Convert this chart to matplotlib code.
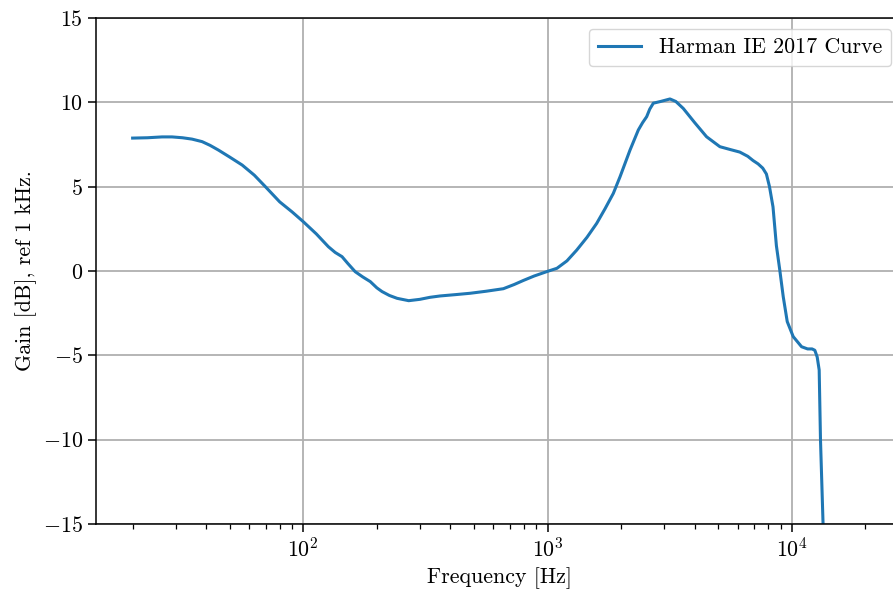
import numpy as np
import matplotlib
matplotlib.use("Agg")
import matplotlib.pyplot as plt

# ========== Data ==========
freq_hz = [20, 23, 26.4, 29, 32, 35, 38.5, 41.5, 44.9, 50, 56.2, 63, 69.9, 80, 90, 100,
           113, 126.6, 135, 144, 152, 163, 175, 188, 200, 210, 225, 242, 270, 300,
           330, 363, 420, 482, 560, 659, 730, 796, 880, 1000, 1092, 1200, 1316, 1450,
           1588, 1720, 1858, 1980, 2175, 2352, 2450, 2545, 2620, 2710, 2900, 3170,
           3350, 3592, 4000, 4475, 5074, 5600, 6124, 6600, 6936, 7276, 7600, 7868,
           8100, 8373, 8645, 8925, 9220, 9575, 10130, 10960, 11600, 12100, 12420,
           12700, 12940, 13100, 13420, 13600]
gain_db = [7.88, 7.9, 7.95, 7.95, 7.9, 7.82, 7.67, 7.45, 7.17, 6.75, 6.28, 5.68, 5.0, 4.1,
           3.5, 2.92, 2.2, 1.44, 1.1, 0.85, 0.45, -0.04, -0.35, -0.63, -1.0, -1.22,
           -1.45, -1.62, -1.76, -1.68, -1.56, -1.48, -1.4, -1.32, -1.2, -1.05, -0.8,
           -0.56, -0.3, -0.02, 0.16, 0.6, 1.24, 2.0, 2.82, 3.7, 4.6, 5.59, 7.17, 8.36,
           8.8, 9.15, 9.6, 9.95, 10.05, 10.2, 10.05, 9.64, 8.8, 7.96, 7.37, 7.2, 7.05,
           6.8, 6.55, 6.35, 6.1, 5.75, 5.0, 3.8, 1.5, 0.06, -1.52, -3.0, -3.89, -4.49,
           -4.62, -4.62, -4.7, -5.1, -5.87, -10.0, -14.96, -17.0]

# ========== Style ==========
plt.rcParams['font.family'] = ['cmr10', 'DejaVu Serif']
plt.rcParams['mathtext.fontset'] = 'cm'
plt.rcParams['axes.formatter.use_mathtext'] = True
plt.rcParams['font.size'] = 15.8

fig = plt.figure(figsize=(8.93, 5.91), dpi=100)
# right edge of the axes falls just outside the canvas, as in the reference
ax = fig.add_axes([96 / 893, 67 / 591, 806 / 893, 506 / 591])

ax.semilogx(freq_hz, gain_db, color='#1f77b4', lw=2.2, label='Harman IE 2017 Curve')
ax.set_xlim(14.16, 28250)
ax.set_ylim(-15, 15)
ax.set_yticks([-15, -10, -5, 0, 5, 10, 15])
ax.grid(True, which='major', color='#b0b0b0', lw=1.3)
ax.set_axisbelow(True)
ax.tick_params(which='major', length=6, width=1.1)
ax.tick_params(which='minor', length=3.5, width=0.9)
for s in ax.spines.values():
    s.set_linewidth(1.1)

ax.set_xlabel('Frequency [Hz]')
ax.set_ylabel('Gain [dB], ref 1 kHz.')
ax.legend(loc='upper right', fontsize=15.8)

fig.savefig('out.png', dpi=100)
